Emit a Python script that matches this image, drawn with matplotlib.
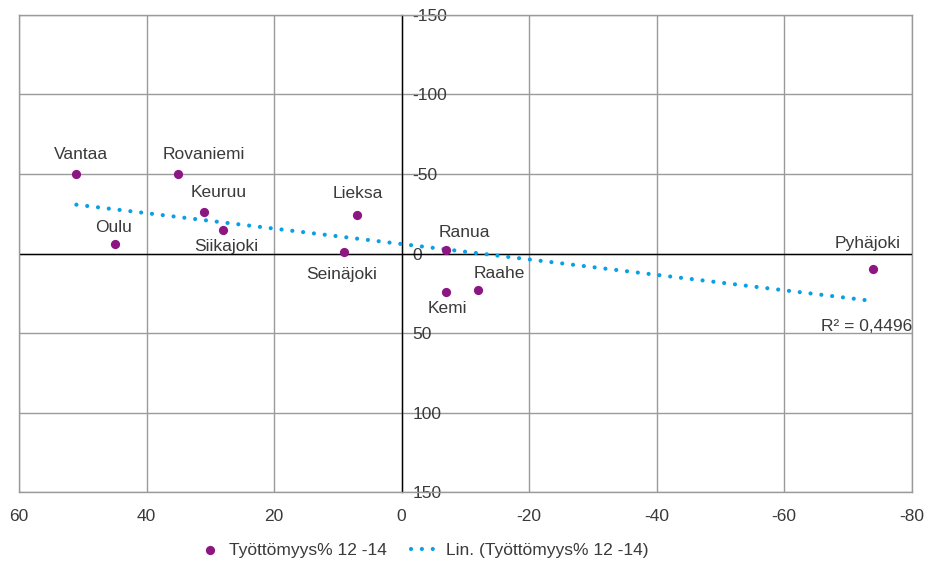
import numpy as np
import matplotlib
matplotlib.use("Agg")
import matplotlib.pyplot as plt

plt.rcParams['font.family'] = ['Liberation Sans', 'DejaVu Sans']
plt.rcParams['axes.unicode_minus'] = False

# Data
cities = ["Vantaa", "Rovaniemi", "Keuruu", "Siikajoki", "Oulu", "Lieksa",
          "Seinäjoki", "Ranua", "Kemi", "Raahe", "Pyhäjoki"]
x_vals = [51, 35, 31, 28, 45, 7, 9, -7, -7, -12, -74]
y_vals = [-50, -50, -26, -15, -6, -24, -1, -2, 24, 23, 10]
x_ticks = [60, 40, 20, 0, -20, -40, -60, -80]
y_ticks = [-150, -100, -50, 0, 50, 100, 150]
series_name = "Työttömyys% 12 -14"
trend_name = "Lin. (Työttömyys% 12 -14)"
r2_label = "R² = 0,4496"

# label offsets in points (dx, dy)
label_offsets = {
    "Vantaa": (3, 14), "Rovaniemi": (18, 14), "Keuruu": (11, 14),
    "Siikajoki": (2, -12), "Oulu": (-1, 12), "Lieksa": (1, 16),
    "Seinäjoki": (-2, -16), "Ranua": (13, 13), "Raahe": (15, 12),
    "Kemi": (1, -12), "Pyhäjoki": (-4, 19),
}

W, H = 931, 568
fig = plt.figure(figsize=(W / 100, H / 100), dpi=100)
left, right, top, bottom = 19, 911.5, 14.7, 492.3
ax = fig.add_axes([left / W, 1 - bottom / H, (right - left) / W, (bottom - top) / H])

text_color = "#3a3a3a"
grid_color = "#9a9a9a"
purple = "#8c1782"
blue = "#0aa0e6"
fs = 12.5

ax.set_xlim(60, -80)
ax.set_ylim(150, -150)
ax.set_xticks(x_ticks)
ax.set_yticks(y_ticks)
ax.set_xticklabels([str(v) for v in x_ticks])
ax.set_yticklabels([str(v) for v in y_ticks])
ax.grid(True, color=grid_color, linewidth=1.0)
ax.set_axisbelow(True)

for s in ["top", "bottom", "left"]:
    ax.spines[s].set_color(grid_color)
    ax.spines[s].set_linewidth(1.0)
ax.spines["right"].set_position(("data", 0))
ax.spines["right"].set_color("black")
ax.spines["right"].set_linewidth(1.0)
ax.yaxis.set_ticks_position("right")
ax.axhline(0, color="black", linewidth=1.0, zorder=1.5)
ax.axvline(-80, color=grid_color, linewidth=1.0, clip_on=False, zorder=1.2)

ax.tick_params(axis="both", length=0, labelsize=fs, labelcolor=text_color)
ax.tick_params(axis="y", pad=8)
ax.tick_params(axis="x", pad=12)
for lbl in ax.get_yticklabels():
    lbl.set_horizontalalignment("left")

# trendline
xa = np.array(x_vals, dtype=float)
ya = np.array(y_vals, dtype=float)
m, b = np.polyfit(xa, ya, 1)
xt = np.array([xa.max(), xa.min()])
trend_line, = ax.plot(xt, m * xt + b, color=blue, linewidth=3.0, linestyle=(0, (0.01, 2.6)),
                      dash_capstyle="round", zorder=3, label=trend_name)

sc = ax.scatter(x_vals, y_vals, s=44, color=purple, zorder=4, linewidths=0, label=series_name)

for c, xv, yv in zip(cities, x_vals, y_vals):
    dx, dy = label_offsets[c]
    ax.annotate(c, (xv, yv), xytext=(dx, dy), textcoords="offset points",
                ha="center", va="center", fontsize=fs, color=text_color, zorder=5)

ax.annotate(r2_label, (xt[-1], m * xt[-1] + b), xytext=(28, -18), textcoords="offset points",
            ha="right", va="center", fontsize=fs, color=text_color, zorder=5)

fig.legend([sc, trend_line], [series_name, trend_name], loc="center",
           bbox_to_anchor=(421 / W, 1 - 550 / H), ncol=2, frameon=False,
           fontsize=fs, labelcolor=text_color, handlelength=1.85, handletextpad=0.15,
           columnspacing=1.4, scatterpoints=1, borderpad=0)

fig.savefig("out.png", dpi=100)
